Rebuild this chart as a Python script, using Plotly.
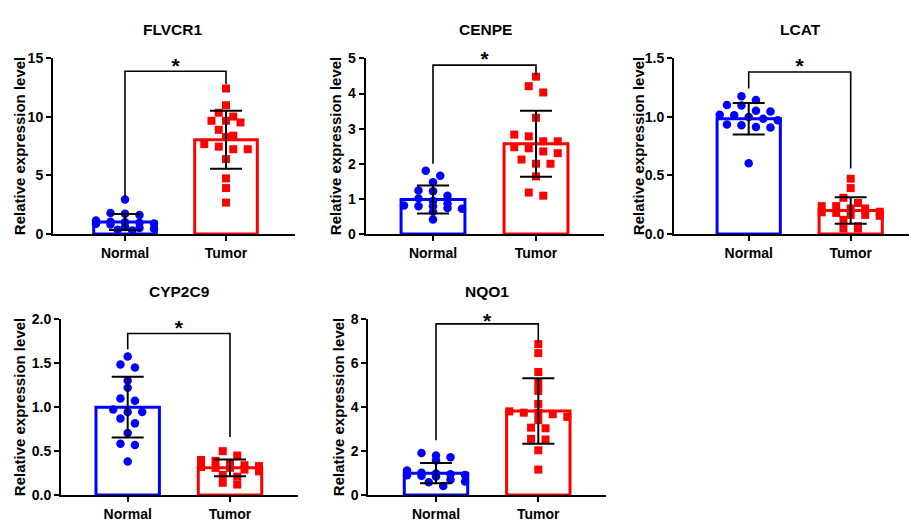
import plotly.graph_objects as go

W, H = 909, 529

# ---------------- data ----------------
genes = ["FLVCR1", "CENPE", "LCAT", "CYP2C9", "NQO1"]
groups = ["Normal", "Tumor"]

flvcr1_normal = [2.95, 1.80, 1.72, 1.62, 1.15, 1.05, 1.00, 0.95, 0.90, 0.88, 0.80, 0.60, 0.50, 0.45, 0.35, 0.30]
flvcr1_tumor = [12.43, 11.0, 10.36, 10.03, 9.53, 9.67, 9.67, 8.9, 8.4, 8.29, 7.24, 7.24, 7.46, 7.68, 6.4, 4.75, 3.92, 2.68]

cenpe_normal = [1.80, 1.66, 1.47, 1.24, 1.22, 1.09, 0.94, 1.01, 0.81, 0.79, 0.87, 0.74, 0.72, 0.79, 0.63, 0.41]
cenpe_tumor = [4.48, 4.21, 4.03, 3.31, 2.83, 2.78, 2.64, 2.64, 2.44, 2.47, 2.30, 2.35, 2.12, 2.0, 2.0, 1.64, 1.09, 1.18]

lcat_normal = [1.177, 1.102, 1.047, 0.984, 0.914, 1.097, 1.0, 0.928, 0.605, 1.144, 1.052, 0.972, 0.909, 1.019, 1.014, 0.936]
lcat_tumor = [0.472, 0.392, 0.309, 0.238, 0.265, 0.238, 0.185, 0.218, 0.218, 0.18, 0.163, 0.163, 0.155, 0.19, 0.047, 0.047, 0.066, 0.12]

cyp2c9_normal = [1.577, 1.485, 1.452, 1.305, 1.22, 1.074, 1.10, 0.945, 0.974, 0.945, 0.871, 0.816, 0.706, 0.585, 0.57, 0.382]
cyp2c9_tumor = [0.50, 0.45, 0.40, 0.39, 0.36, 0.34, 0.33, 0.32, 0.31, 0.31, 0.29, 0.27, 0.23, 0.21, 0.14, 0.12]

nqo1_normal = [1.92, 1.80, 1.72, 1.58, 1.12, 1.02, 0.98, 0.95, 0.92, 0.90, 0.88, 0.85, 0.70, 0.62, 0.58, 0.42]
nqo1_tumor = [6.87, 6.46, 5.60, 5.10, 4.74, 4.15, 3.75, 3.56, 3.81, 3.68, 3.75, 3.41, 3.07, 3.04, 2.53, 2.56, 2.04, 1.16]

normal_points = [flvcr1_normal, cenpe_normal, lcat_normal, cyp2c9_normal, nqo1_normal]
tumor_points = [flvcr1_tumor, cenpe_tumor, lcat_tumor, cyp2c9_tumor, nqo1_tumor]

normal_mean = [1.02, 0.98, 0.985, 1.00, 1.00]
normal_sd = [0.69, 0.40, 0.135, 0.345, 0.46]
tumor_mean = [8.05, 2.57, 0.20, 0.31, 3.83]
tumor_sd = [2.48, 0.94, 0.113, 0.095, 1.49]

y_max = [15, 5, 1.5, 2.0, 8]
y_dtick = [5, 1, 0.5, 0.5, 2]
y_format = ["d", "d", ".1f", ".1f", "d"]

bracket_top = [13.9, 4.81, 1.384, 1.838, 7.79]
bracket_left_end = [3.1, 2.0, 1.243, 1.66, 2.5]
bracket_right_end = [12.8, 4.49, 0.56, 0.66, 6.94]
star_y = [14.6, 5.08, 1.46, 1.94, 8.07]
star_text = ["*", "*", "*", "*", "*"]

# ---------------- layout (pixel geometry) ----------------
panels = [
    dict(left=53, right=295, top=52, bottom=233, nx=125, tx=226, title_x=173, title_y=22, ytx=19),
    dict(left=365.7, right=604, top=52, bottom=233, nx=433, tx=536, title_x=485, title_y=22, ytx=335),
    dict(left=674, right=909, top=52, bottom=233, nx=748.7, tx=850.7, title_x=800, title_y=22, ytx=638),
    dict(left=61, right=297.7, top=321, bottom=502.3, nx=127.7, tx=230, title_x=179, title_y=292, ytx=19),
    dict(left=368.3, right=606, top=321, bottom=502.3, nx=436, tx=538.3, title_x=487, title_y=292, ytx=338),
]

BLUE = "#0000FF"
RED = "#FF0000"
FONT = "Liberation Sans, Arial, sans-serif"
STAR_SIZE = 21


def swarm(vals, px_y, px_x, row_h=7.0, gap=14.5, maxn=5):
    order = sorted(range(len(vals)), key=lambda i: -vals[i])
    rows = []
    for i in order:
        if rows and (vals[rows[-1][0]] - vals[i]) * px_y <= row_h and len(rows[-1]) < maxn:
            rows[-1].append(i)
        else:
            rows.append([i])
    off = [0.0] * len(vals)
    for r in rows:
        n = len(r)
        for k, i in enumerate(r):
            off[i] = (k - (n - 1) / 2) * gap / px_x
    return off


fig = go.Figure()
annotations = []
layout_axes = {}

for i, g in enumerate(genes):
    p = panels[i]
    ax = "" if i == 0 else str(i + 1)
    xref, yref = "x" + ax, "y" + ax
    unit = p["tx"] - p["nx"]
    r0 = -(p["nx"] - p["left"]) / unit
    r1 = 1 + (p["right"] - p["tx"]) / unit
    px_y = (p["bottom"] - p["top"]) / y_max[i]

    # bars (mean)
    fig.add_trace(go.Bar(
        x=[0, 1], y=[normal_mean[i], tumor_mean[i]], width=0.62,
        marker=dict(color="rgba(0,0,0,0)", line=dict(color=[BLUE, RED], width=3)),
        xaxis=xref, yaxis=yref, showlegend=False, hoverinfo="skip"))

    # individual samples
    offn = swarm(normal_points[i], px_y, unit)
    offt = swarm(tumor_points[i], px_y, unit)
    fig.add_trace(go.Scatter(
        x=[0 + o for o in offn], y=normal_points[i], mode="markers",
        marker=dict(symbol="circle", size=8.5, color=BLUE, line=dict(width=0)),
        cliponaxis=False, xaxis=xref, yaxis=yref, showlegend=False))
    fig.add_trace(go.Scatter(
        x=[1 + o for o in offt], y=tumor_points[i], mode="markers",
        marker=dict(symbol="square", size=8, color=RED, line=dict(width=0)),
        cliponaxis=False, xaxis=xref, yaxis=yref, showlegend=False))

    # mean +/- SD
    fig.add_trace(go.Scatter(
        x=[0, 1], y=[normal_mean[i], tumor_mean[i]], mode="markers",
        marker=dict(size=2, color="rgba(0,0,0,0)"),
        error_y=dict(type="data", array=[normal_sd[i], tumor_sd[i]], color="black",
                     thickness=2, width=16),
        cliponaxis=False, xaxis=xref, yaxis=yref, showlegend=False, hoverinfo="skip"))

    # significance bracket
    fig.add_trace(go.Scatter(
        x=[0, 0, 1, 1],
        y=[bracket_left_end[i], bracket_top[i], bracket_top[i], bracket_right_end[i]],
        mode="lines", line=dict(color="black", width=1.6),
        cliponaxis=False, xaxis=xref, yaxis=yref, showlegend=False, hoverinfo="skip"))
    fig.add_trace(go.Scatter(
        x=[0.5], y=[star_y[i] - 0.23 * STAR_SIZE / px_y], mode="text", text=[star_text[i]],
        textposition="middle center",
        textfont=dict(family=FONT, size=STAR_SIZE, color="black", weight="bold"),
        cliponaxis=False, xaxis=xref, yaxis=yref, showlegend=False, hoverinfo="skip"))

    # panel title
    annotations.append(dict(x=p["title_x"] / W, y=1 - p["title_y"] / H, xref="paper", yref="paper",
                            text=g, showarrow=False, xanchor="center", yanchor="middle",
                            font=dict(family=FONT, size=15.5, color="black", weight="bold")))
    # y-axis title
    annotations.append(dict(x=p["ytx"] / W, y=1 - (p["top"] + p["bottom"]) / 2 / H,
                            xref="paper", yref="paper", text="Relative expression level",
                            textangle=-90, showarrow=False, xanchor="center", yanchor="middle",
                            font=dict(family=FONT, size=15, color="black", weight="bold")))

    common = dict(showline=True, linecolor="black", linewidth=2, ticks="outside",
                  ticklen=5, tickwidth=2, tickcolor="black", showgrid=False, zeroline=False,
                  tickfont=dict(family=FONT, size=14, color="black", weight="bold"),
                  fixedrange=True)
    layout_axes["xaxis" + ax] = dict(
        domain=[p["left"] / W, min(p["right"] / W, 1.0)], range=[r0, r1], anchor=yref,
        tickvals=[0, 1], ticktext=groups, **common)
    layout_axes["yaxis" + ax] = dict(
        domain=[1 - p["bottom"] / H, 1 - p["top"] / H], range=[0, y_max[i]], anchor=xref,
        dtick=y_dtick[i], tick0=0, tickformat=y_format[i], **common)

fig.update_layout(
    width=W, height=H, autosize=False,
    margin=dict(l=0, r=0, t=0, b=0),
    paper_bgcolor="white", plot_bgcolor="white",
    showlegend=False, barmode="overlay",
    annotations=annotations,
    font=dict(family=FONT, color="black"),
    **layout_axes)

fig.write_html("out.html")
